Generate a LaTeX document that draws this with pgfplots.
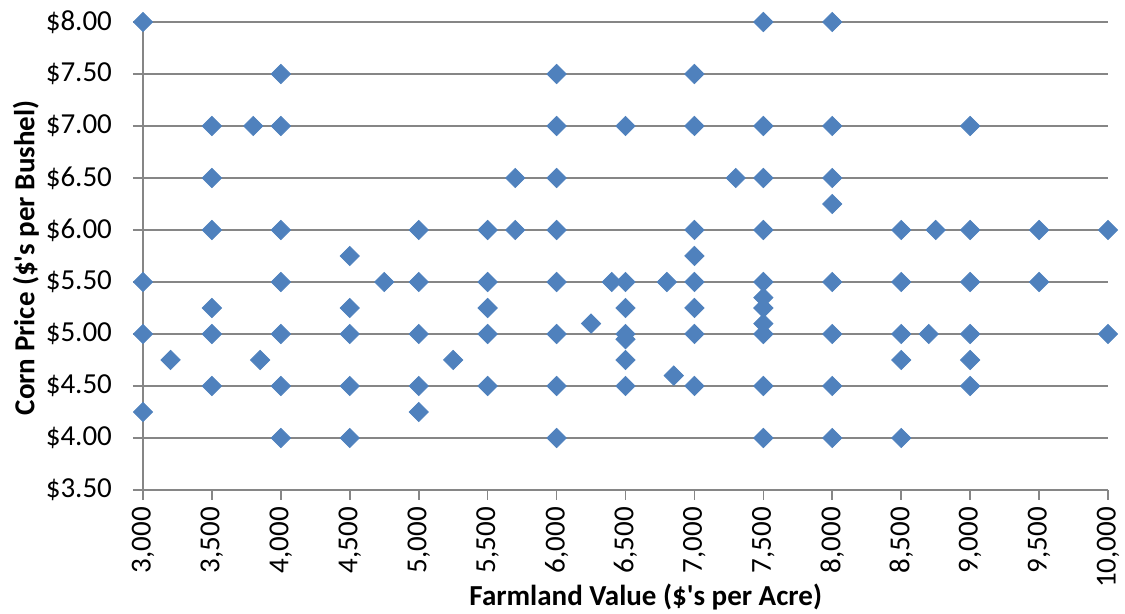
\documentclass[border=0pt]{standalone}
\usepackage{pgfplots}
\pgfplotsset{compat=1.18}
\usepackage{fontspec}
\setmainfont{Carlito}
\definecolor{excelblue}{HTML}{4F81BD}
\definecolor{gridgray}{HTML}{868686}

\begin{document}
\begin{tikzpicture}
\begin{axis}[
  scale only axis, width=482.5pt, height=234pt,
  xmin=3000, xmax=10000, ymin=3.5, ymax=8,
  xtick distance=500, ytick distance=0.5,
  axis x line=bottom, axis y line=left,
  axis line style={-, gridgray, line width=0.8pt},
  ymajorgrids, grid style={gridgray, line width=0.8pt},
  tick align=outside, major tick length=5pt,
  tick style={gridgray, line width=0.8pt},
  font=\fontsize{14.5}{17}\selectfont,
  tick label style={font=\fontsize{14.5}{17}\selectfont},
  /pgf/number format/assume math mode=true,
  scaled x ticks=false,
  xticklabel style={rotate=90, anchor=east},
  yticklabel style={xshift=-7pt},
  xticklabel={\pgfmathprintnumber[fixed, 1000 sep={,}]{\tick}},
  yticklabel={\$\pgfmathprintnumber[fixed, fixed zerofill, precision=2]{\tick}},
  xlabel={\textbf{Farmland Value (\$\textquotesingle s per Acre)}},
  ylabel={\textbf{Corn Price (\$\textquotesingle s per Bushel)}},
  xlabel style={at={(axis description cs:0.521,0)}, anchor=base, yshift=-58pt},
  ylabel style={at={(axis description cs:0,0.496)}, anchor=center, yshift=58.5pt},
  clip=false,
]
\addplot[only marks, mark=square*, mark size=3.4pt,
  mark options={rotate=45, fill=excelblue, draw=excelblue}] coordinates {
(3000,8.00)(3000,5.50)(3000,5.00)(3000,4.25)
(3200,4.75)
(3500,7.00)(3500,6.50)(3500,6.00)(3500,5.25)(3500,5.00)(3500,4.50)
(3800,7.00)(3850,4.75)
(4000,7.50)(4000,7.00)(4000,6.00)(4000,5.50)(4000,5.00)(4000,4.50)(4000,4.00)
(4500,5.75)(4500,5.25)(4500,5.00)(4500,4.50)(4500,4.00)
(4750,5.50)
(5000,6.00)(5000,5.50)(5000,5.00)(5000,4.50)(5000,4.25)
(5250,4.75)
(5500,6.00)(5500,5.50)(5500,5.25)(5500,5.00)(5500,4.50)
(5700,6.50)(5700,6.00)
(6000,7.50)(6000,7.00)(6000,6.50)(6000,6.00)(6000,5.50)(6000,5.00)(6000,4.50)(6000,4.00)
(6250,5.10)
(6400,5.50)
(6500,7.00)(6500,5.50)(6500,5.25)(6500,5.00)(6500,4.95)(6500,4.75)(6500,4.50)
(6800,5.50)(6850,4.60)
(7000,7.50)(7000,7.00)(7000,6.00)(7000,5.75)(7000,5.50)(7000,5.25)(7000,5.00)(7000,4.50)
(7300,6.50)
(7500,8.00)(7500,7.00)(7500,6.50)(7500,6.00)(7500,5.50)(7500,5.35)(7500,5.25)(7500,5.10)(7500,5.00)(7500,4.50)(7500,4.00)
(8000,8.00)(8000,7.00)(8000,6.50)(8000,6.25)(8000,5.50)(8000,5.00)(8000,4.50)(8000,4.00)
(8500,6.00)(8500,5.50)(8500,5.00)(8500,4.75)(8500,4.00)
(8700,5.00)(8750,6.00)
(9000,7.00)(9000,6.00)(9000,5.50)(9000,5.00)(9000,4.75)(9000,4.50)
(9500,6.00)(9500,5.50)
(10000,6.00)(10000,5.00)
};
\end{axis}
\pgfresetboundingbox
\path (current axis.south west) ++(-71.5pt,-62pt) rectangle ++(562.5pt,307pt);
\end{tikzpicture}
\end{document}
